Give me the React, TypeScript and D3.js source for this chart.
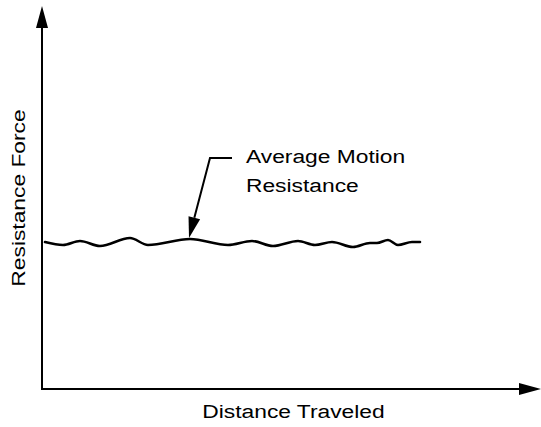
import React from "react";
import * as d3 from "d3";

// Distance traveled (arbitrary units) and resistance force (arbitrary units)
const distance = [3, 21, 38, 58, 88, 106, 148, 186, 210, 231, 256, 273, 290, 311, 328, 335, 346, 356, 370, 378];
const resistance = [147, 144, 148, 143, 151, 144, 150, 144, 148, 143, 148, 144, 147, 142, 146, 146, 149, 144, 147, 147];
const annotationIndex = 6;
const annotationLines = ["Average Motion", "Resistance"];
const xLabel = "Distance Traveled";
const yLabel = "Resistance Force";

const W = 541;
const H = 427;
const FONT = "'Liberation Sans', Arial, Helvetica, sans-serif";

export default function App() {
  const x = d3.scaleLinear().domain([0, 500]).range([42, 542]);
  const y = d3.scaleLinear().domain([0, 300]).range([389, 89]);
  const x0 = x(0);
  const y0 = y(0);
  const xEnd = 541;
  const yTop = 6;

  const line = d3
    .line<number>()
    .x((_, i) => x(distance[i]))
    .y((d) => y(d))
    .curve(d3.curveMonotoneX);
  const path = line(resistance) || "";

  const tipX = x(distance[annotationIndex]) - 1;
  const tipY = y(resistance[annotationIndex]) - 1;
  const elbowX = tipX + 21;
  const elbowY = tipY - 80;
  const lineEndX = elbowX + 22;
  const dx = elbowX - tipX;
  const dy = elbowY - tipY;
  const len = Math.hypot(dx, dy);
  const ux = dx / len;
  const uy = dy / len;
  const aLen = 21;
  const aHalf = 6;
  const bx = tipX + ux * aLen;
  const by = tipY + uy * aLen;
  const px = -uy;
  const py = ux;

  const txt = (s: string, tx: number, ty: number, rot = 0, anchor = "start") => (
    <text
      key={s}
      transform={`translate(${tx},${ty}) rotate(${rot}) scale(1.2,1)`}
      fontFamily={FONT}
      fontSize={19}
      textAnchor={anchor}
      fill="#000"
    >
      {s}
    </text>
  );

  return (
    <svg
      width={W}
      height={H}
      style={{ position: "absolute", left: 0, top: 0, background: "#fff" }}
    >
      <rect width={W} height={H} fill="#fff" />
      {/* axes */}
      <line x1={x0} y1={y0} x2={x0} y2={yTop + 20} stroke="#000" strokeWidth={2} />
      <polygon points={`${x0},${yTop} ${x0 - 6},${yTop + 22} ${x0 + 6},${yTop + 22}`} fill="#000" />
      <line x1={x0 - 1} y1={y0} x2={xEnd - 20} y2={y0} stroke="#000" strokeWidth={2.2} />
      <polygon points={`${xEnd},${y0} ${xEnd - 22},${y0 - 6} ${xEnd - 22},${y0 + 6}`} fill="#000" />
      {/* wave */}
      <path d={path} fill="none" stroke="#000" strokeWidth={2.6} strokeLinecap="round" />
      {/* annotation leader */}
      <polyline
        points={`${lineEndX},${elbowY} ${elbowX},${elbowY} ${bx},${by}`}
        fill="none"
        stroke="#000"
        strokeWidth={2}
      />
      <polygon
        points={`${tipX},${tipY} ${bx + px * aHalf},${by + py * aHalf} ${bx - px * aHalf},${by - py * aHalf}`}
        fill="#000"
      />
      {txt(annotationLines[0], 246, 163)}
      {txt(annotationLines[1], 246, 192)}
      {txt(xLabel, 293.5, 418, 0, "middle")}
      {txt(yLabel, 25, 198, -90, "middle")}
    </svg>
  );
}
